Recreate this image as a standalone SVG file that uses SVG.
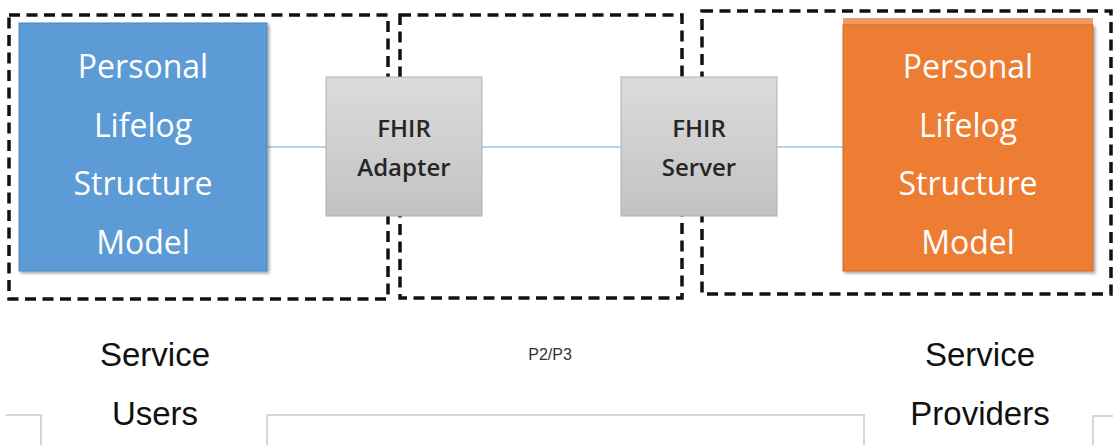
<svg xmlns="http://www.w3.org/2000/svg" width="1113" height="445" viewBox="0 0 1113 445">
<style>
.dash{fill:none;stroke:#111;stroke-width:3.5;stroke-dasharray:11 6.5}
.conn{stroke:#9dc3e6;stroke-width:1.5;fill:none}
.big{font-family:"Segoe UI","Open Sans","Liberation Sans",sans-serif;font-size:32px;fill:#fff;text-anchor:middle}
.gtxt{font-family:"Open Sans","Liberation Sans",sans-serif;font-weight:600;font-size:24px;fill:#262626;text-anchor:middle}
.lbl{font-family:"Liberation Sans",sans-serif;font-size:33px;fill:#111;text-anchor:middle}
.small{font-family:"Liberation Sans",sans-serif;font-size:16px;fill:#333;text-anchor:middle}
.gray{fill:url(#gg);stroke:#b0b0b0;stroke-width:1}
.frame{fill:none;stroke:#d6d6d6;stroke-width:2}
</style>
<defs>
<linearGradient id="gg" x1="0" y1="0" x2="0" y2="1">
<stop offset="0" stop-color="#dcdcdc"/>
<stop offset="1" stop-color="#c2c2c2"/>
</linearGradient>
<filter id="sh" x="-5%" y="-5%" width="115%" height="115%">
<feDropShadow dx="2" dy="2" stdDeviation="1.5" flood-color="#000" flood-opacity="0.35"/>
</filter>
</defs>
<g id="regions">
<rect class="dash" x="9" y="15" width="379" height="284"/>
<rect class="dash" x="400" y="15" width="282" height="283"/>
<rect class="dash" x="702" y="11" width="409" height="283"/>
</g>
<g id="connectors">
<line class="conn" x1="268" y1="147" x2="326" y2="147"/>
<line class="conn" x1="482" y1="147" x2="621" y2="147"/>
<line class="conn" x1="777" y1="147" x2="843" y2="147"/>
</g>
<g id="user-model">
<rect x="19" y="23" width="248" height="248" fill="#5b9bd5" stroke="#4a87c0" stroke-width="1" filter="url(#sh)"/>
<text class="big" x="143" y="78">Personal</text>
<text class="big" x="143" y="137">Lifelog</text>
<text class="big" x="143" y="195">Structure</text>
<text class="big" x="143" y="254">Model</text>
</g>
<g id="fhir-adapter">
<rect class="gray" x="326" y="77" width="156" height="139"/>
<text class="gtxt" x="404" y="137">FHIR</text>
<text class="gtxt" x="404" y="176">Adapter</text>
</g>
<g id="fhir-server">
<rect class="gray" x="621" y="77" width="156" height="139"/>
<text class="gtxt" x="699" y="137">FHIR</text>
<text class="gtxt" x="699" y="176">Server</text>
</g>
<g id="provider-model">
<rect x="843" y="18" width="250" height="8" fill="#f29a63"/>
<rect x="843" y="25" width="250" height="246" fill="#ed7d31" stroke="#d06a25" stroke-width="1" filter="url(#sh)"/>
<text class="big" x="968" y="78">Personal</text>
<text class="big" x="968" y="137">Lifelog</text>
<text class="big" x="968" y="195">Structure</text>
<text class="big" x="968" y="254">Model</text>
</g>
<g id="frames">
<polyline class="frame" points="6,415 41,415 41,445"/>
<polyline class="frame" points="267,445 267,415 864,415 864,445"/>
<polyline class="frame" points="1113,416 1093,416 1093,445"/>
</g>
<g id="labels">
<text class="lbl" x="155" y="366">Service</text>
<text class="lbl" x="155" y="425">Users</text>
<text class="small" x="550" y="360">P2/P3</text>
<text class="lbl" x="980" y="366">Service</text>
<text class="lbl" x="980" y="425">Providers</text>
</g>
</svg>
